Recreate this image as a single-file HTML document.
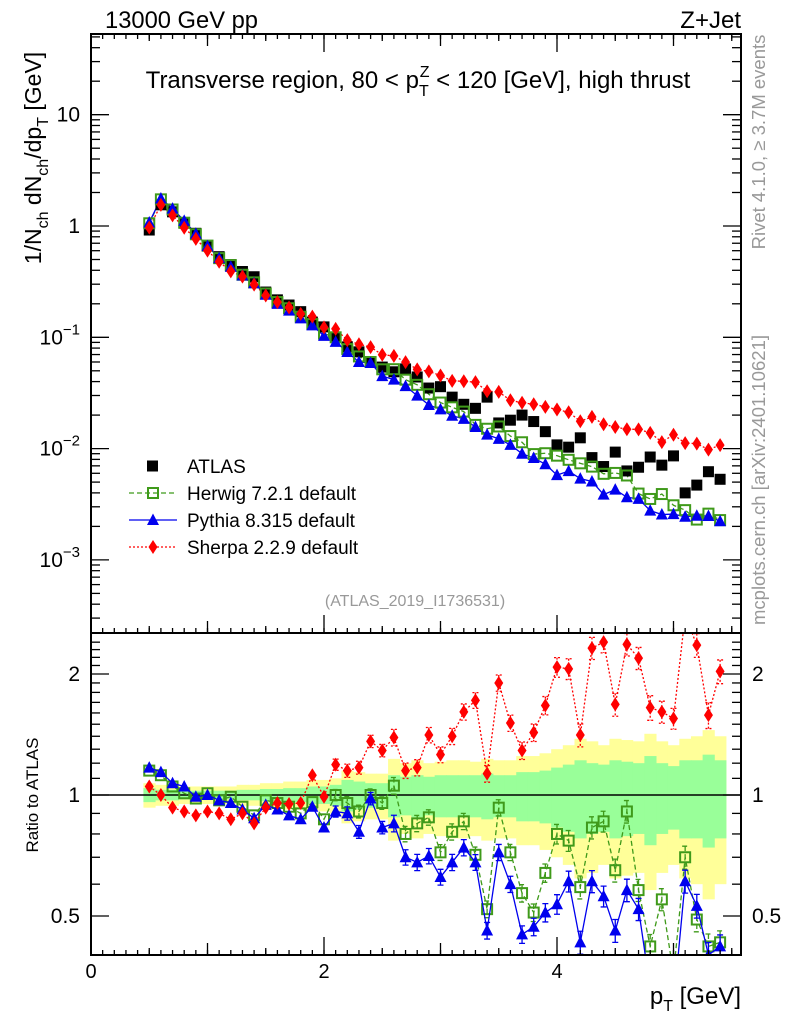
<!DOCTYPE html>
<html><head><meta charset="utf-8"><style>
html,body{margin:0;padding:0;background:#fff}
svg{display:block;font-family:"Liberation Sans",sans-serif}
</style></head><body>
<svg id="chart" width="786" height="1024" viewBox="0 0 786 1024" xmlns="http://www.w3.org/2000/svg">
<defs>
<clipPath id="clipMain"><rect x="91" y="34" width="650" height="599"/></clipPath>
<clipPath id="clipRatio"><rect x="91" y="633" width="650" height="322"/></clipPath>
</defs>
<g id="bands" clip-path="url(#clipRatio)"></g>
<line x1="91" y1="795" x2="741" y2="795" stroke="#000" stroke-width="1.5"/>
<g id="mainMarks" clip-path="url(#clipMain)"></g>
<g id="ratioMarks" clip-path="url(#clipRatio)"></g>
<rect x="91" y="34" width="650" height="599" fill="none" stroke="#000" stroke-width="2"/>
<rect x="91" y="633" width="650" height="322" fill="none" stroke="#000" stroke-width="2"/>
<g id="axes"></g>
<text x="105" y="28" font-size="24" textLength="153" lengthAdjust="spacingAndGlyphs">13000 GeV pp</text>
<text x="741" y="28" font-size="24" text-anchor="end">Z+Jet</text>
<text x="418" y="88" font-size="24" text-anchor="middle">Transverse region, 80 &lt; p<tspan font-size="16" dy="8">T</tspan><tspan font-size="16" dx="-9" dy="-19">Z</tspan><tspan dy="11"> &lt; 120 [GeV], high thrust</tspan></text>
<text x="415" y="606" font-size="16" fill="#999" text-anchor="middle">(ATLAS_2019_I1736531)</text>
<text transform="translate(765,142) rotate(-90)" font-size="18.5" fill="#999" text-anchor="middle">Rivet 4.1.0, ≥ 3.7M events</text>
<text transform="translate(765,480) rotate(-90)" font-size="18.5" fill="#999" text-anchor="middle">mcplots.cern.ch [arXiv:2401.10621]</text>
<text transform="translate(41,158) rotate(-90)" font-size="23" text-anchor="middle">1/N<tspan font-size="16" dy="7">ch</tspan><tspan dy="-7"> dN</tspan><tspan font-size="16" dy="7">ch</tspan><tspan dy="-7">/dp</tspan><tspan font-size="16" dy="7">T</tspan><tspan dy="-7"> [GeV]</tspan></text>
<text transform="translate(38,795) rotate(-90)" font-size="17" text-anchor="middle">Ratio to ATLAS</text>
<text x="741" y="1004" font-size="24" text-anchor="end">p<tspan font-size="16" dy="7">T</tspan><tspan dy="-7"> [GeV]</tspan></text>
<g id="legend"></g>
</svg>
<script>
const xs = [0.5,0.6,0.7,0.8,0.9,1.0,1.1,1.2,1.3,1.4,1.5,1.6,1.7,1.8,1.9,2.0,2.1,2.2,2.3,2.4,2.5,2.6,2.7,2.8,2.9,3.0,3.1,3.2,3.3,3.4,3.5,3.6,3.7,3.8,3.9,4.0,4.1,4.2,4.3,4.4,4.5,4.6,4.7,4.8,4.9,5.0,5.1,5.2,5.3,5.4];
const atlas = [0.92,1.55,1.34,1.06,0.86,0.66,0.53,0.45,0.39,0.35,0.255,0.217,0.195,0.17,0.137,0.124,0.1,0.082,0.074,0.06,0.054,0.049,0.052,0.044,0.035,0.036,0.029,0.025,0.023,0.029,0.017,0.018,0.020,0.0175,0.0142,0.0108,0.0103,0.0125,0.0083,0.0069,0.0093,0.0063,0.0068,0.0084,0.0071,0.0086,0.0040,0.0047,0.0062,0.0053];
const herwigRatio = [1.15,1.12,1.05,1.01,0.98,1.01,0.97,0.99,0.935,0.89,0.97,0.955,0.935,0.9,0.96,0.87,1.0,0.955,0.91,1.0,0.955,1.055,0.8,0.85,0.88,0.72,0.81,0.86,0.71,0.52,0.93,0.72,0.57,0.51,0.64,0.8,0.77,0.59,0.83,0.86,0.65,0.91,0.58,0.42,0.55,0.36,0.7,0.49,0.42,0.43];
const pythiaRatio = [1.17,1.14,1.07,1.05,0.99,1.0,0.97,0.955,0.92,0.875,0.945,0.92,0.89,0.87,0.935,0.83,0.91,0.9,0.81,0.98,0.83,0.85,0.70,0.68,0.705,0.625,0.68,0.74,0.68,0.46,0.72,0.60,0.45,0.47,0.51,0.535,0.61,0.43,0.61,0.56,0.46,0.58,0.52,0.33,0.36,0.3,0.61,0.53,0.4,0.42];
const sherpaRatio = [1.05,1.0,0.93,0.91,0.89,0.91,0.9,0.87,0.9,0.85,0.93,0.955,0.95,0.955,1.12,0.99,1.19,1.15,1.17,1.36,1.29,1.39,1.15,1.17,1.41,1.26,1.4,1.61,1.72,1.13,1.9,1.51,1.29,1.43,1.67,2.08,2.06,1.41,2.32,2.4,1.68,2.37,2.19,1.65,1.61,1.55,2.8,2.36,1.58,2.03];
const totErr = [0.07,0.06,0.06,0.05,0.05,0.05,0.05,0.05,0.06,0.06,0.07,0.07,0.08,0.08,0.09,0.09,0.1,0.15,0.14,0.13,0.13,0.23,0.2,0.22,0.2,0.21,0.22,0.22,0.21,0.23,0.22,0.22,0.25,0.25,0.27,0.3,0.33,0.38,0.36,0.33,0.38,0.37,0.36,0.42,0.36,0.33,0.38,0.4,0.45,0.4];
const statErr = [0.04,0.03,0.03,0.025,0.025,0.025,0.025,0.025,0.03,0.03,0.035,0.035,0.04,0.04,0.05,0.05,0.06,0.09,0.08,0.07,0.07,0.12,0.11,0.12,0.11,0.12,0.12,0.12,0.12,0.13,0.12,0.12,0.14,0.14,0.15,0.17,0.19,0.22,0.2,0.19,0.22,0.21,0.2,0.25,0.2,0.18,0.22,0.22,0.26,0.22];
const xTicks = [0,2,4];
const ratioTicks = [0.5,1,2];

const NS="http://www.w3.org/2000/svg";
const X0=91,X1=741,XMAX=650/116.5;
function sx(v){return X0+v*116.5;}
function sy(v){return 226-Math.log10(v)*111.3;}
function ry(r){return 795-Math.log2(r)*121;}
function mk(tag,attrs,parent){const e=document.createElementNS(NS,tag);for(const k in attrs)e.setAttribute(k,attrs[k]);parent.appendChild(e);return e;}
const gBands=document.getElementById('bands'),gMain=document.getElementById('mainMarks'),gRatio=document.getElementById('ratioMarks'),gAx=document.getElementById('axes'),gLeg=document.getElementById('legend');

const hw=0.05;
xs.forEach((x,i)=>{
  let y=mk('rect',{x:sx(x-hw),width:116.5*0.1+0.5,y:ry(1+totErr[i]),height:ry(1-totErr[i])-ry(1+totErr[i]),fill:'#ffff99'},gBands);
  
  
});
xs.forEach((x,i)=>{
  let g=mk('rect',{x:sx(x-hw),width:116.5*0.1+0.5,y:ry(1+statErr[i]),height:ry(1-statErr[i])-ry(1+statErr[i]),fill:'#99ff99'},gBands);
  
  
});

function marker(type,cx,cy,parent,name){
  let e;
  if(type==='sq') e=mk('rect',{x:cx-5.5,y:cy-5.5,width:11,height:11,fill:'#000'},parent);
  else if(type==='osq') e=mk('rect',{x:cx-5,y:cy-5,width:10,height:10,fill:'none',stroke:'#3f9a1a','stroke-width':2},parent);
  else if(type==='tri') e=mk('polygon',{points:`${cx},${cy-6.5} ${cx-6},${cy+5} ${cx+6},${cy+5}`,fill:'#0000ee'},parent);
  else e=mk('polygon',{points:`${cx},${cy-7} ${cx-4.5},${cy} ${cx},${cy+7} ${cx+4.5},${cy}`,fill:'#ff0000'},parent);
  
  
}
const series=[
 {r:herwigRatio,type:'osq',col:'#3f9a1a',dash:'5,3',name:'herwig'},
 {r:pythiaRatio,type:'tri',col:'#0000ee',dash:'',name:'pythia'},
 {r:sherpaRatio,type:'dia',col:'#ff0000',dash:'2,2',name:'sherpa'}];

series.forEach(s=>{
  const pts=xs.map((x,i)=>sx(x)+','+sy(atlas[i]*s.r[i])).join(' ');
  let l=mk('polyline',{points:pts,fill:'none',stroke:s.col,'stroke-width':1.3,'stroke-dasharray':s.dash},gMain);
  
  
});
xs.forEach((x,i)=>marker('sq',sx(x),sy(atlas[i]),gMain,'atlas-point'));
series.forEach(s=>xs.forEach((x,i)=>marker(s.type,sx(x),sy(atlas[i]*s.r[i]),gMain,s.name+'-point')));

series.forEach(s=>{
  const pts=xs.map((x,i)=>sx(x)+','+ry(s.r[i])).join(' ');
  let l=mk('polyline',{points:pts,fill:'none',stroke:s.col,'stroke-width':1.3,'stroke-dasharray':s.dash},gRatio);
  
  
  xs.forEach((x,i)=>{
    if(x<2.1) return;
    const e=0.02+0.12*totErr[i];
    let b=mk('path',{d:`M${sx(x)},${ry(s.r[i]*(1+e))}V${ry(s.r[i]*(1-e))}M${sx(x)-3},${ry(s.r[i]*(1+e))}h6M${sx(x)-3},${ry(s.r[i]*(1-e))}h6`,stroke:s.col,'stroke-width':1.3,fill:'none','stroke-dasharray':s.dash},gRatio);
    
    
  });
  xs.forEach((x,i)=>marker(s.type,sx(x),ry(s.r[i]),gRatio,s.name+'-ratio-point'));
});

function tick(x1,y1,x2,y2){let t=mk('line',{x1,y1,x2,y2,stroke:'#000','stroke-width':1.3},gAx);}
function label(x,y,txt,anchor,size,name){let t=mk('text',{x,y,'font-size':size,'text-anchor':anchor},gAx);t.textContent=txt;return t;}
for(let v=0;v<=XMAX+1e-6;v+=0.5){
  const len=(Math.abs(v%2)<1e-6)?18:(Math.abs(v%1)<1e-6?12:7);
  [633,955].forEach(yb=>{tick(sx(v),yb,sx(v),yb-len);});
  tick(sx(v),34,sx(v),34+len);
}
for(let v=0.1;v<XMAX;v+=0.1){ [633,955].forEach(yb=>tick(sx(v),yb,sx(v),yb-5)); tick(sx(v),34,sx(v),39);}
xTicks.forEach(v=>label(sx(v),978,String(v),'middle',20,'x-tick-label'));
for(let d=-4;d<=1;d++){
  for(let m=1;m<10;m++){
    const v=m*Math.pow(10,d),y=sy(v);
    if(y<34||y>633) continue;
    const len=m===1?18:9;
    tick(X0,y,X0+len,y);tick(X1,y,X1-len,y);
  }
}
const mainLabels=[[10,'10',null],[1,'1',null],[0.1,'10','−1'],[0.01,'10','−2'],[0.001,'10','−3']];
mainLabels.forEach(([v,b,e])=>{
  const t=label(80,sy(v)+7,b,'end',21,'y-tick-label');
  if(e){const s=document.createElementNS(NS,'tspan');s.setAttribute('dy','-10');s.setAttribute('font-size','15');s.textContent=e;t.appendChild(s);}
});
for(let v=0.4;v<=2.5;v+=0.1){
  const y=ry(v);if(y<633||y>955)continue;
  const major=[0.5,1,2].some(m=>Math.abs(m-v)<1e-6);
  const len=major?18:9;
  tick(X0,y,X0+len,y);tick(X1,y,X1-len,y);
}
ratioTicks.forEach(v=>{label(80,ry(v)+7,String(v),'end',21,'ratio-tick-label');label(752,ry(v)+7,String(v),'start',21,'ratio-tick-label-right');});

const leg=[['sq','#000','','ATLAS'],['osq','#3f9a1a','5,3','Herwig 7.2.1 default'],['tri','#0000ee','','Pythia 8.315 default'],['dia','#ff0000','2,2','Sherpa 2.2.9 default']];
leg.forEach((l,i)=>{
  const y=466+i*27;
  if(i>0){let ln=mk('line',{x1:129,y1:y,x2:177,y2:y,stroke:l[1],'stroke-width':1.3,'stroke-dasharray':l[2]},gLeg);}
  if(l[0]==='sq'){let r=mk('rect',{x:147,y:y-5.5,width:11,height:11,fill:'#000'},gLeg);}
  else marker(l[0],153,y,gLeg,'legend-marker');
  let t=mk('text',{x:187,y:y+7,'font-size':19},gLeg);t.textContent=l[3];
  
  
});
</script>
</body></html>
